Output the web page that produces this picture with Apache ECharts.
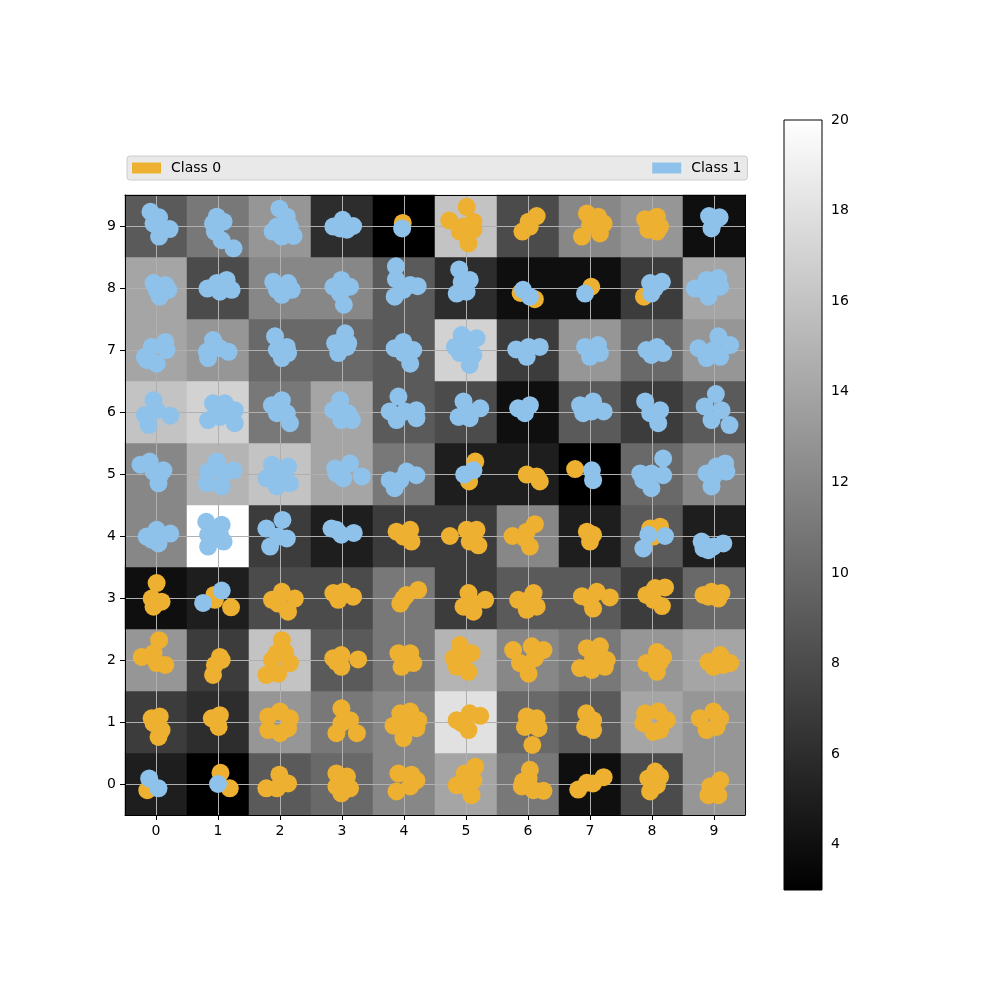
<!DOCTYPE html>
<html>
<head>
<meta charset="utf-8">
<script src="https://cdn.jsdelivr.net/npm/echarts@6/dist/echarts.min.js"></script>
<style>
  html, body { margin: 0; padding: 0; background: #fff; }
  #chart { width: 1000px; height: 1000px; }
</style>
</head>
<body>
<div id="chart"></div>
<script>
// cell labels on both axes
var cells = ['0', '1', '2', '3', '4', '5', '6', '7', '8', '9'];
var tickValues = [0, 1, 2, 3, 4, 5, 6, 7, 8, 9];
var cbarTicks = [4, 6, 8, 10, 12, 14, 16, 18, 20];
var cbarRange = [3, 20];

// heatmap values, one row per y (0 at the bottom)
var rowValues = [
    [5, 3, 9, 10, 12, 14, 11, 4, 8, 13],     // y = 0
    [7, 6, 13, 11, 12, 18, 10, 9, 14, 13],   // y = 1
    [13, 7, 16, 9, 11, 15, 12, 11, 13, 14],  // y = 2
    [4, 5, 8, 8, 11, 7, 9, 9, 7, 10],        // y = 3
    [12, 20, 7, 5, 7, 7, 12, 5, 9, 5],       // y = 4
    [12, 15, 16, 14, 11, 5, 5, 3, 10, 12],   // y = 5
    [16, 17, 11, 14, 9, 8, 4, 9, 7, 9],      // y = 6
    [14, 13, 10, 10, 9, 17, 7, 13, 10, 13],  // y = 7
    [14, 8, 12, 12, 9, 6, 4, 4, 7, 14],      // y = 8
    [9, 11, 13, 6, 3, 16, 8, 12, 13, 4]      // y = 9
];

// Class 0 points (orange)
var class0Points = [
    [3.98, 9.05],
    [5.01, 9.31], [4.73, 9.09], [5.12, 9.07], [4.9, 8.91], [5.12, 8.94], [5.04, 8.72], [4.96, 8.99],
    [6.14, 9.16], [6.01, 9.07], [5.91, 8.91], [6.03, 8.99],
    [6.95, 9.2], [7.13, 9.15], [7.22, 9.04], [6.87, 8.83], [7.16, 8.88], [7.0, 9.02],
    [7.89, 9.11], [8.08, 9.15], [8.13, 8.99], [7.94, 8.94], [8.08, 8.91],
    [5.88, 7.92], [6.11, 7.82],
    [7.02, 8.02],
    [7.87, 7.86],
    [5.15, 5.2], [5.05, 4.88],
    [5.98, 4.99], [6.14, 4.96], [6.19, 4.88],
    [6.76, 5.08],
    [3.88, 4.07], [4.1, 4.1], [4.12, 3.91], [3.99, 3.99],
    [4.74, 4.0], [5.01, 4.1], [5.17, 4.1], [5.2, 3.85], [5.06, 3.91],
    [5.75, 4.0], [6.11, 4.19], [5.98, 4.07], [6.03, 3.83], [5.95, 3.96],
    [6.95, 4.07], [7.05, 4.02], [7.0, 3.91],
    [7.97, 4.12], [8.13, 4.15], [8.02, 3.99],
    [0.01, 3.24], [-0.07, 2.99], [0.09, 2.94], [-0.04, 2.86],
    [0.94, 3.05], [1.21, 2.85], [0.95, 2.97],
    [1.87, 2.97], [2.03, 3.1], [2.24, 2.99], [2.13, 2.78], [1.97, 2.91],
    [2.86, 3.08], [3.02, 3.1], [3.18, 3.02], [2.94, 2.97],
    [4.23, 3.13], [4.04, 3.05], [3.94, 2.91], [3.99, 2.99],
    [5.04, 3.08], [5.31, 2.97], [4.96, 2.86], [5.12, 2.78], [5.06, 2.97],
    [5.84, 2.97], [6.09, 3.08], [6.14, 2.86], [5.98, 2.81], [6.01, 2.97],
    [6.87, 3.03], [7.11, 3.1], [7.32, 3.01], [7.05, 2.83], [7.0, 2.97],
    [7.91, 3.05], [8.05, 3.16], [8.21, 3.17], [8.16, 2.87], [8.02, 2.97],
    [8.83, 3.05], [8.96, 3.1], [9.12, 3.08], [9.07, 2.99], [8.91, 3.02],
    [0.05, 2.32], [-0.23, 2.05], [-0.04, 2.11], [0.15, 1.92], [0.01, 1.95],
    [1.03, 2.05], [0.95, 1.92], [0.92, 1.76], [1.06, 2.0],
    [2.03, 2.32], [1.95, 2.11], [1.87, 2.0], [2.16, 1.95], [1.78, 1.76], [1.97, 1.78], [2.08, 2.13],
    [2.86, 2.03], [2.99, 2.08], [3.26, 2.01], [2.99, 1.89], [2.91, 1.97],
    [3.91, 2.11], [4.1, 2.11], [4.15, 1.95], [3.96, 1.89],
    [4.9, 2.24], [5.09, 2.11], [4.8, 2.03], [4.85, 1.89], [5.04, 1.81], [4.96, 2.0],
    [5.76, 2.16], [6.06, 2.22], [6.25, 2.16], [5.87, 1.95], [6.01, 1.78], [6.11, 2.03],
    [6.95, 2.19], [7.16, 2.22], [7.27, 2.0], [6.84, 1.87], [7.03, 1.84], [7.24, 1.89], [7.05, 2.03],
    [8.08, 2.13], [7.91, 1.95], [8.13, 1.97], [8.08, 1.81], [8.18, 2.05],
    [8.91, 1.97], [9.1, 2.08], [9.26, 1.95], [8.99, 1.89], [9.15, 1.92],
    [-0.07, 1.06], [0.06, 1.09], [0.09, 0.87], [0.04, 0.76], [-0.04, 0.98],
    [0.9, 1.06], [1.03, 1.11], [1.01, 0.92],
    [1.81, 1.09], [2.0, 1.17], [2.16, 1.06], [1.81, 0.87], [2.0, 0.82], [2.13, 0.9],
    [2.99, 1.22], [3.13, 1.03], [2.91, 0.82], [3.24, 0.82], [2.99, 0.98],
    [3.83, 0.94], [3.94, 1.14], [4.1, 1.17], [4.23, 1.03], [4.2, 0.9], [3.99, 0.74], [4.02, 0.98],
    [4.85, 1.03], [5.06, 1.14], [5.23, 1.1], [5.04, 0.87], [4.93, 0.98],
    [5.98, 1.09], [6.14, 1.06], [5.95, 0.92], [6.17, 0.9], [6.07, 0.63],
    [6.94, 1.14], [7.05, 1.03], [6.92, 0.92], [7.05, 0.87],
    [7.89, 1.14], [8.1, 1.17], [8.24, 1.03], [7.86, 0.98], [8.02, 0.84], [8.13, 0.87],
    [8.77, 1.06], [8.99, 1.17], [9.1, 1.06], [8.88, 0.87], [9.04, 0.92],
    [-0.14, -0.1],
    [1.04, 0.18], [1.19, -0.07],
    [1.99, 0.15], [1.78, -0.07], [2.13, 0.01], [1.95, -0.07],
    [2.91, 0.17], [3.08, 0.12], [2.91, -0.04], [3.13, -0.07], [2.99, -0.15],
    [3.91, 0.17], [4.12, 0.15], [4.2, 0.06], [3.88, -0.12], [4.1, -0.04],
    [5.15, 0.28], [4.98, 0.17], [4.85, -0.02], [5.01, -0.04], [5.09, -0.18], [5.12, 0.06],
    [6.03, 0.23], [5.92, 0.04], [5.9, -0.04], [6.25, -0.11], [6.09, -0.1], [6.01, 0.09],
    [6.81, -0.09], [6.95, 0.02], [7.05, 0.01], [7.22, 0.11],
    [8.05, 0.2], [7.94, 0.09], [8.13, 0.12], [8.08, -0.02], [7.97, -0.12],
    [9.1, 0.06], [8.94, -0.04], [8.91, -0.18], [9.07, -0.18], [9.02, -0.04]
];

// Class 1 points (blue)
var class1Points = [
    [-0.09, 9.23], [0.05, 9.14], [0.22, 8.95], [0.05, 8.83], [-0.04, 9.04],
    [0.98, 9.15], [0.92, 9.04], [1.09, 9.07], [0.95, 8.91], [1.06, 8.77], [1.25, 8.64],
    [1.99, 9.28], [2.11, 9.15], [1.88, 8.91], [2.03, 8.83], [2.22, 8.84], [1.95, 8.99], [2.16, 8.99],
    [2.86, 8.99], [3.01, 9.1], [3.18, 9.0], [3.08, 8.94], [2.97, 8.96],
    [3.97, 8.96],
    [8.92, 9.16], [9.09, 9.14], [8.96, 8.96], [9.0, 9.07],
    [-0.04, 8.08], [0.15, 8.05], [0.06, 7.86], [0.2, 7.97], [0.01, 7.97],
    [0.83, 7.99], [0.98, 8.08], [1.14, 8.13], [1.22, 7.97], [1.03, 7.94],
    [1.89, 8.1], [2.13, 8.08], [2.19, 7.97], [2.03, 7.89], [1.95, 7.97],
    [2.86, 8.02], [2.99, 8.13], [3.13, 8.02], [3.03, 7.73], [2.97, 7.91],
    [3.87, 8.35], [3.87, 8.14], [4.1, 8.05], [4.22, 8.03], [3.85, 7.86], [3.99, 7.97],
    [4.89, 8.3], [5.06, 8.13], [4.85, 7.91], [5.01, 7.94], [4.93, 8.1],
    [5.92, 7.97], [6.03, 7.86],
    [6.92, 7.91],
    [7.97, 8.08], [8.16, 8.1], [7.99, 7.91], [8.05, 8.0],
    [8.69, 7.99], [8.88, 8.13], [9.07, 8.16], [9.1, 8.02], [8.91, 7.86], [8.83, 7.97],
    [-0.18, 6.89], [-0.07, 7.05], [0.15, 7.13], [0.17, 7.0], [0.01, 6.78], [-0.15, 6.84],
    [0.92, 7.16], [0.82, 6.97], [1.03, 7.03], [1.17, 6.97], [0.84, 6.87],
    [1.92, 7.22], [1.95, 7.0], [2.11, 7.05], [2.03, 6.87], [2.13, 6.95],
    [3.05, 7.27], [2.89, 7.11], [3.1, 7.11], [2.94, 6.95], [3.08, 7.05],
    [3.85, 7.03], [3.99, 7.13], [4.15, 7.0], [4.1, 6.78], [3.99, 6.95],
    [4.93, 7.24], [5.17, 7.19], [4.82, 7.05], [5.01, 7.0], [5.12, 6.92], [5.06, 6.76], [4.9, 6.95],
    [5.81, 7.01], [6.01, 7.05], [6.19, 7.05], [5.98, 6.89],
    [6.92, 7.05], [7.13, 7.08], [7.0, 6.89], [7.16, 6.95],
    [7.91, 7.0], [8.08, 7.05], [8.18, 6.95], [7.99, 6.92],
    [8.75, 7.03], [9.07, 7.22], [9.26, 7.08], [8.88, 6.87], [9.1, 6.89], [8.99, 7.0],
    [-0.04, 6.19], [-0.18, 5.95], [-0.12, 5.79], [0.23, 5.94], [0.01, 6.03],
    [0.92, 6.14], [1.11, 6.14], [0.84, 5.87], [1.27, 6.03], [1.27, 5.82], [1.03, 5.92],
    [1.87, 6.11], [2.03, 6.19], [2.11, 5.98], [2.16, 5.82], [1.95, 5.98],
    [2.97, 6.19], [2.86, 6.03], [3.1, 5.98], [3.16, 5.87], [2.99, 5.87],
    [3.91, 6.25], [3.77, 6.01], [3.88, 5.87], [4.2, 6.03], [4.2, 5.9], [4.02, 6.01],
    [4.96, 6.17], [5.23, 6.06], [4.88, 5.92], [5.06, 5.9], [5.01, 6.03],
    [5.84, 6.06], [6.03, 6.11], [5.95, 5.98],
    [6.84, 6.11], [7.05, 6.17], [7.22, 6.01], [6.89, 5.98], [7.03, 6.01],
    [7.89, 6.17], [8.13, 6.03], [8.1, 5.82], [7.97, 5.98],
    [9.03, 6.29], [8.85, 6.09], [9.12, 6.03], [8.96, 5.87], [9.25, 5.79],
    [-0.25, 5.15], [-0.1, 5.2], [0.12, 5.06], [0.04, 4.85], [0.06, 4.98], [-0.04, 5.04],
    [0.98, 5.2], [0.84, 5.04], [0.82, 4.85], [1.06, 4.8], [1.25, 5.06], [1.09, 5.01],
    [1.87, 5.15], [2.13, 5.12], [1.78, 4.93], [1.95, 4.8], [2.16, 4.85], [2.0, 4.98],
    [2.89, 5.09], [3.13, 5.17], [3.32, 4.96], [3.02, 4.93], [2.91, 5.01],
    [3.77, 4.9], [3.85, 4.77], [4.04, 5.04], [4.2, 4.98], [3.94, 4.9],
    [4.97, 4.99], [5.12, 5.06],
    [7.03, 5.06], [7.05, 4.9],
    [8.18, 5.25], [7.81, 5.01], [7.99, 5.01], [8.18, 4.98], [7.99, 4.77], [7.86, 4.9],
    [9.18, 5.17], [8.88, 5.01], [9.04, 5.12], [9.2, 5.04], [8.96, 4.8], [8.99, 4.96],
    [-0.15, 3.99], [0.01, 4.1], [0.23, 4.04], [0.04, 3.88], [-0.07, 3.94],
    [0.81, 4.23], [1.06, 4.18], [0.84, 4.02], [1.09, 3.91], [0.84, 3.83], [1.03, 4.04],
    [1.78, 4.12], [2.04, 4.26], [2.11, 3.96], [1.84, 3.83], [1.97, 3.99],
    [2.83, 4.12], [2.99, 4.02], [3.19, 4.05], [2.91, 4.1],
    [7.94, 4.02], [8.21, 4.0], [7.86, 3.8],
    [8.8, 3.91], [8.91, 3.77], [9.15, 3.88], [8.99, 3.83], [8.83, 3.8],
    [1.06, 3.12], [0.76, 2.92],
    [-0.11, 0.09], [0.04, -0.07],
    [1.0, 0.0]
];

(function () {
    var chart = echarts.init(document.getElementById('chart'));

    var heatData = [];
    rowValues.forEach(function (row, y) {
        row.forEach(function (v, x) {
            heatData.push([x, y, v]);
        });
    });

    var font = 'DejaVu Sans';
    var labelStyle = { color: '#000', fontSize: 14, fontFamily: font };

    var option = {
        animation: false,
        backgroundColor: '#fff',
        legend: {
            left: 127,
            top: 156,
            padding: [5, 6, 5, 5],
            itemWidth: 29,
            itemHeight: 11,
            itemGap: 431,
            backgroundColor: '#e9e9e9',
            borderColor: '#cccccc',
            borderWidth: 1,
            borderRadius: 3,
            textStyle: { color: '#000', fontSize: 14, fontFamily: font, padding: [0, 0, 0, 5] },
            data: [
                { name: 'Class 0', icon: 'rect' },
                { name: 'Class 1', icon: 'rect' }
            ]
        },
        grid: [
            { left: 125, top: 195, width: 620, height: 620 },   // heatmap
            { left: 125, top: 195, width: 620, height: 620 },   // scatter
            { left: 784, top: 120, width: 38, height: 770 }     // colorbar
        ],
        visualMap: {
            show: false,
            min: cbarRange[0],
            max: cbarRange[1],
            seriesIndex: 0,
            inRange: { color: ['#000000', '#ffffff'] }
        },
        xAxis: [
            {
                type: 'category', gridIndex: 0, data: cells, position: 'top', z: 3,
                axisLine: { show: true, lineStyle: { color: '#000', width: 1 } },
                axisTick: { show: false }, axisLabel: { show: false }, splitLine: { show: false }
            },
            {
                type: 'value', gridIndex: 1, min: -0.5, max: 9.5, z: 3,
                axisLine: { show: true, onZero: false, lineStyle: { color: '#000', width: 1 } },
                axisTick: { show: true, length: 5, customValues: tickValues, lineStyle: { color: '#000' } },
                axisLabel: Object.assign({ customValues: tickValues, margin: 9 }, labelStyle),
                splitLine: { show: true, lineStyle: { color: '#b0b0b0', width: 1 } }
            },
            { type: 'value', gridIndex: 2, min: 0, max: 1, show: false }
        ],
        yAxis: [
            {
                type: 'category', gridIndex: 0, data: cells, position: 'right', z: 3,
                axisLine: { show: true, lineStyle: { color: '#000', width: 1 } },
                axisTick: { show: false }, axisLabel: { show: false }, splitLine: { show: false }
            },
            {
                type: 'value', gridIndex: 1, min: -0.5, max: 9.5, z: 3,
                axisLine: { show: true, onZero: false, lineStyle: { color: '#000', width: 1 } },
                axisTick: { show: true, length: 5, customValues: tickValues, lineStyle: { color: '#000' } },
                axisLabel: Object.assign({ customValues: tickValues, margin: 9 }, labelStyle),
                splitLine: { show: true, lineStyle: { color: '#b0b0b0', width: 1 } }
            },
            {
                type: 'value', gridIndex: 2, min: cbarRange[0], max: cbarRange[1], position: 'right',
                axisLine: { show: false },
                axisTick: { show: true, length: 5, customValues: cbarTicks, lineStyle: { color: '#000' } },
                axisLabel: Object.assign({ customValues: cbarTicks, margin: 9 }, labelStyle),
                splitLine: { show: false }
            }
        ],
        series: [
            {
                type: 'heatmap',
                xAxisIndex: 0,
                yAxisIndex: 0,
                z: 1,
                data: heatData,
                itemStyle: { borderWidth: 0 },
                emphasis: { disabled: true }
            },
            {
                name: 'Class 0',
                type: 'scatter',
                xAxisIndex: 1,
                yAxisIndex: 1,
                z: 4,
                symbolSize: 18,
                itemStyle: { color: '#edb031', opacity: 1 },
                data: class0Points
            },
            {
                name: 'Class 1',
                type: 'scatter',
                xAxisIndex: 1,
                yAxisIndex: 1,
                z: 5,
                symbolSize: 18,
                itemStyle: { color: '#8fc2ea', opacity: 1 },
                data: class1Points
            },
            {
                // colour bar drawn on its own axis
                type: 'custom',
                xAxisIndex: 2,
                yAxisIndex: 2,
                z: 1,
                data: [[0, cbarRange[0], 1, cbarRange[1]]],
                renderItem: function (params, api) {
                    var p0 = api.coord([api.value(0), api.value(1)]);
                    var p1 = api.coord([api.value(2), api.value(3)]);
                    return {
                        type: 'rect',
                        shape: { x: p0[0], y: p1[1], width: p1[0] - p0[0], height: p0[1] - p1[1] },
                        style: {
                            fill: new echarts.graphic.LinearGradient(0, 1, 0, 0, [
                                { offset: 0, color: '#000000' },
                                { offset: 1, color: '#ffffff' }
                            ]),
                            stroke: '#000',
                            lineWidth: 1
                        }
                    };
                }
            }
        ]
    };
    chart.setOption(option);
})();
</script>
</body>
</html>
